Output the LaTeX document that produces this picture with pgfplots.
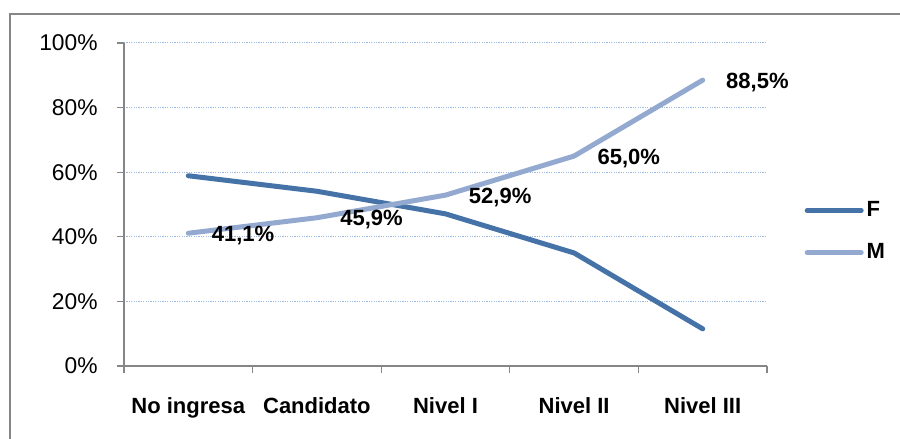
\documentclass[border=0pt]{standalone}
\usepackage{pgfplots}
\pgfplotsset{compat=1.18}
\usepackage{fontspec}
\setmainfont{Liberation Sans}
\definecolor{cF}{HTML}{4572A7}
\definecolor{cM}{HTML}{93A9D0}
\definecolor{gridc}{HTML}{9DBAE0}
\definecolor{axc}{HTML}{868686}
\begin{document}
\begin{tikzpicture}
\useasboundingbox (0,0) rectangle (450pt,219.5pt);
\draw[axc, line width=0.8pt] (5pt,-2pt) -- (5pt,212.5pt) -- (452pt,212.5pt);
\begin{axis}[
  at={(62pt,36.5pt)}, anchor=south west,
  scale only axis, width=321.5pt, height=161.5pt,
  xmin=0, xmax=5, ymin=0, ymax=100,
  axis x line*=bottom, axis y line*=left,
  axis line style={axc, line width=0.6pt},
  xtick={0,1,2,3,4,5}, xticklabels={},
  extra x ticks={0.5,1.5,2.5,3.5,4.5},
  extra x tick labels={No ingresa,Candidato,Nivel I,Nivel II,Nivel III},
  extra x tick style={major tick length=0pt, grid=none,
    xticklabel style={font=\bfseries\fontsize{11}{13}\selectfont, anchor=north, inner sep=0pt, yshift=-15.5pt}},
  ytick={0,20,40,60,80,100},
  yticklabels={0\%,20\%,40\%,60\%,80\%,100\%},
  yticklabel style={font=\fontsize{11.4}{13}\selectfont, anchor=east, inner sep=0pt, xshift=-9.5pt},
  tick align=outside, major tick length=3.5pt,
  tick style={axc, line width=0.6pt},
  ymajorgrids, grid style={gridc, dash pattern=on 0.6pt off 0.6pt, line width=0.5pt},
  clip=false,
  legend style={at={(1.058,0.416)}, anchor=west, draw=none, fill=none,
    font=\bfseries\fontsize{11}{13}\selectfont, inner sep=0pt,
    row sep=9pt, nodes={inner sep=1.5pt}},
  legend cell align=left,
  legend image code/.code={\draw[#1, line cap=round] (0pt,0pt) -- (27pt,0pt);},
]
\addplot[cF, line width=2.5pt, line cap=round, line join=round] coordinates {
  (0.5,58.9) (1.5,54.1) (2.5,47.1) (3.5,35.0) (4.5,11.5)};
\addlegendentry{F}
\addplot[cM, line width=2.5pt, line cap=round, line join=round,
  point meta=explicit symbolic,
  nodes near coords,
  nodes near coords style={anchor=west, inner sep=0pt, xshift=10.5pt, yshift=-1pt,
    black, font=\bfseries\fontsize{11}{13}\selectfont}] coordinates {
  (0.5,41.1) [41,1\%]
  (1.5,45.9) [45,9\%]
  (2.5,52.9) [52,9\%]
  (3.5,65.0) [65,0\%]
  (4.5,88.5) [88,5\%]};
\addlegendentry{M}
\end{axis}
\end{tikzpicture}
\end{document}
